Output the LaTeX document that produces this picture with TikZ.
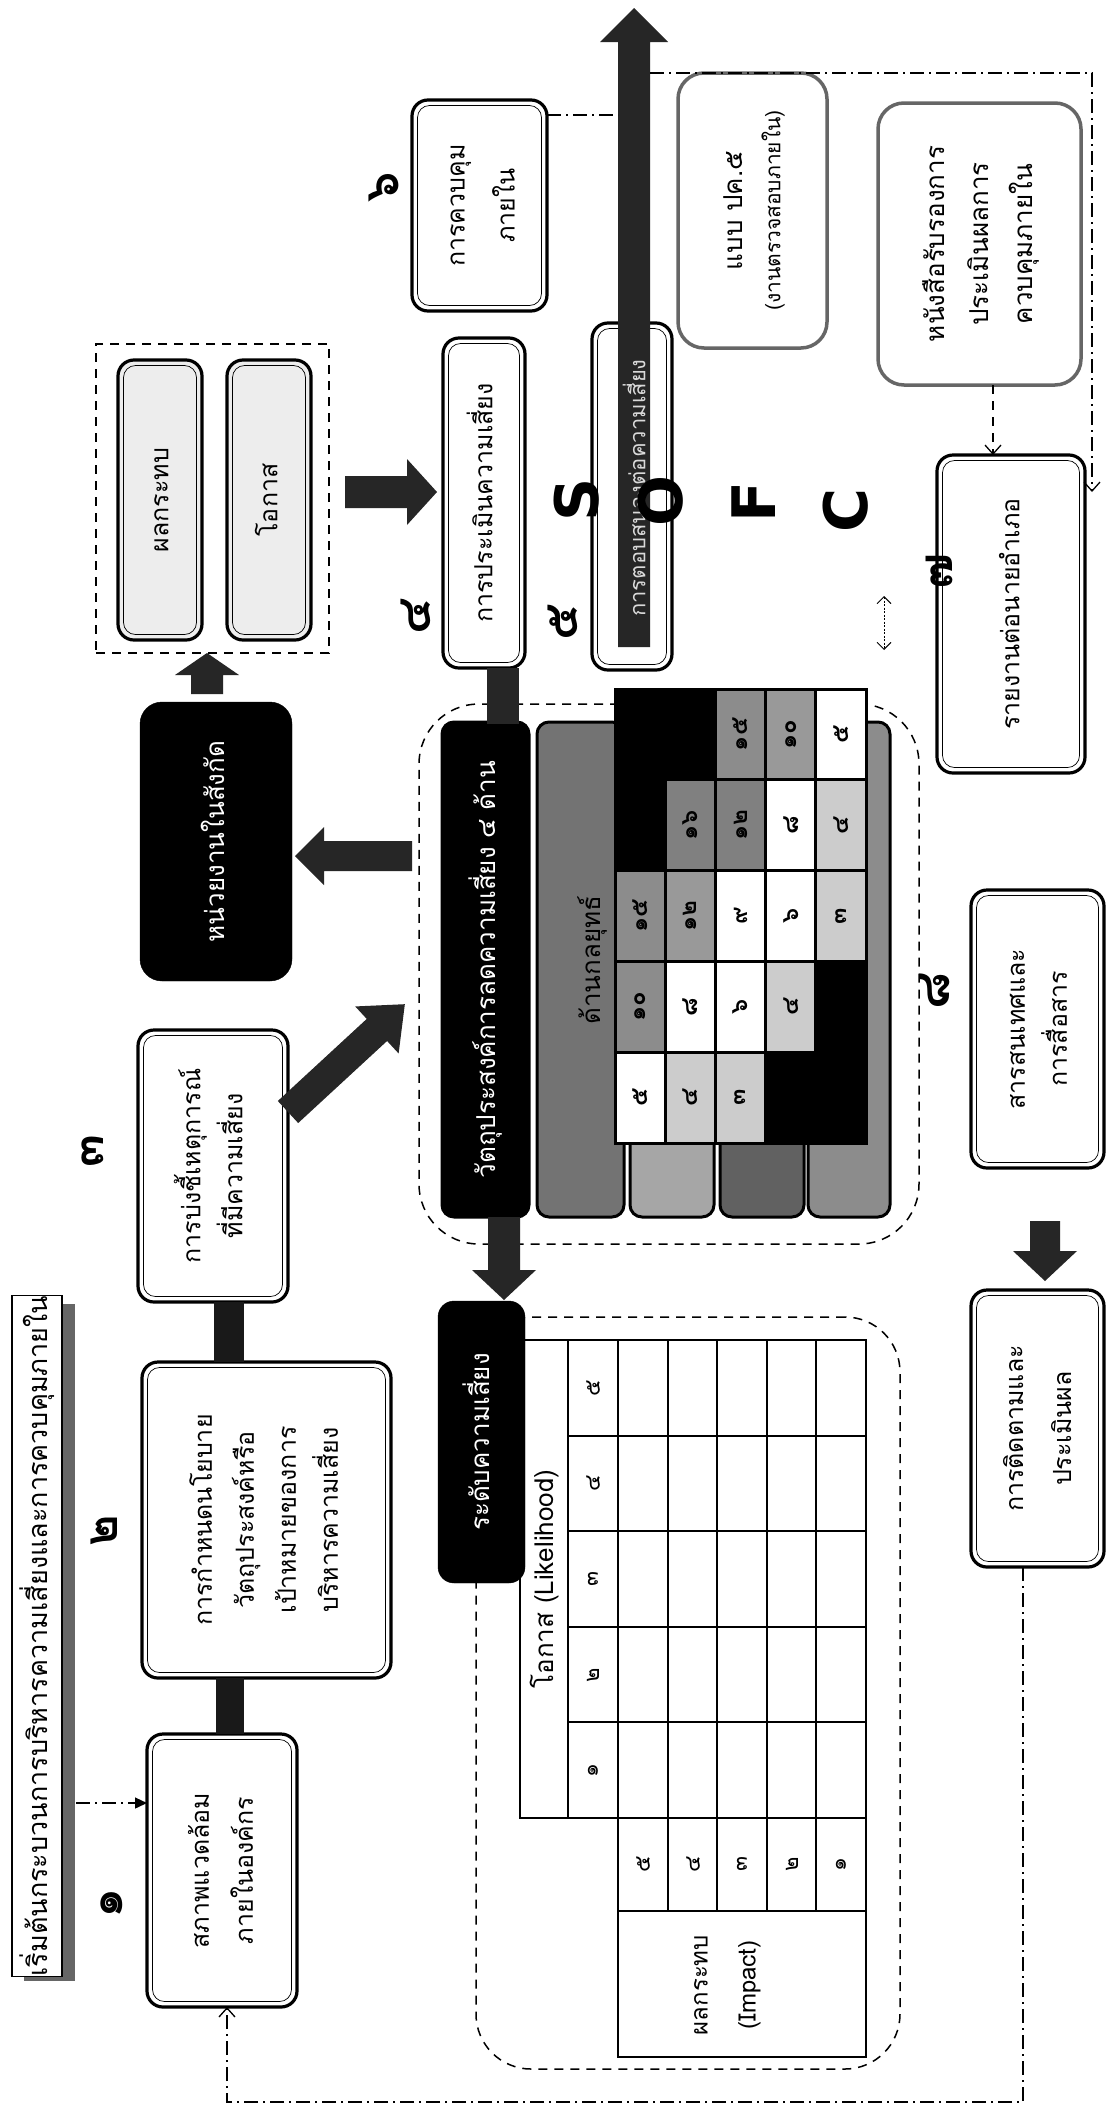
\documentclass[tikz,border=0pt]{standalone}
\usepackage{fontspec}
\setmainfont{Loma}[Script=Thai]
\newfontfamily\latf{DejaVu Sans}
\usetikzlibrary{arrows.meta}
\newcommand\rt[1]{\rotatebox{90}{\begin{tabular}{@{}c@{}}#1\end{tabular}}}
\newcommand\dblbox[7]{%
  \node[#1, minimum width=#5, minimum height=#6] (#2) at (#3,#4) {\rt{#7}};
  \node[dblin, minimum width=#5-11, minimum height=#6-11] (#2i) at (#3,#4) {};}
\begin{document}
\begin{tikzpicture}[x=1pt,y=-1pt,
 every node/.style={inner sep=0pt, outer sep=0pt},
 dbl/.style={draw, line width=3.2pt, rounded corners=16pt, fill=white, font=\fontsize{25}{42}\selectfont},
 lite/.style={dbl, fill=black!7},
 dblin/.style={draw, line width=0.7pt, rounded corners=12pt},
 gbox/.style={draw=black!60, line width=3.5pt, rounded corners=26pt, fill=white, font=\fontsize{26}{44}\selectfont},
 blkbox/.style={draw, fill=black, text=white, rounded corners=22pt, font=\fontsize{26}{40}\selectfont},
 num/.style={font=\fontsize{48}{48}\selectfont\bfseries, rotate=90},
 big/.style={font=\latf\fontsize{60}{60}\selectfont\bfseries, rotate=90},
 bk/.style={fill=black!85},
 dd/.style={line width=1.3pt, dash pattern=on 14pt off 5pt on 2pt off 5pt},
 dsh/.style={line width=1.5pt, dash pattern=on 9pt off 7pt},
 bar/.style={draw, line width=3pt, rounded corners=12pt},
 cell/.style={draw, line width=3pt, font=\fontsize{24}{24}\selectfont\bfseries},
 tbl/.style={line width=1.3pt},
 tnum/.style={font=\fontsize{22}{22}\selectfont, rotate=90},
 barb/.style={-{Straight Barb[length=9pt,width=16pt]}},
]
\useasboundingbox (0,0) rectangle (1109,2115);
\fill[white] (0,0) rectangle (1109,2115);

% ---------- dashed regions ----------
\node[draw, dsh, minimum width=233, minimum height=309] (grp) at (212.5,498.5) {};
\node[draw, dsh, rounded corners=60pt, minimum width=500, minimum height=540] (reg2) at (669,974) {};
\node[draw, dsh, rounded corners=55pt, minimum width=424, minimum height=752] (reg3) at (688,1693) {};

% ---------- title ----------
\fill[black!60] (24,1304) rectangle (75,1981);
\node[draw, line width=1.4pt, fill=white, minimum width=50, minimum height=678, font=\fontsize{27}{27}\selectfont] (title) at (37,1636) {\rotatebox{90}{เริ่มต้นกระบวนการบริหารความเสี่ยงและการควบคุมภายใน}};

% ---------- bars of the four objectives ----------
\node[bar, fill=black, minimum width=87, minimum height=495, text=white, font=\fontsize{26}{26}\selectfont] (bar0) at (485.5,969.5) {\rotatebox{90}{วัตถุประสงค์การลดความเสี่ยง ๔ ด้าน}};
\node[bar, fill=black!55, minimum width=87, minimum height=495] (bar1) at (580.5,969.5) {};
\node[rotate=90, font=\fontsize{26}{26}\selectfont] (bar1t) at (592,960) {ด้านกลยุทธ์};
\node[bar, fill=black!35, minimum width=84, minimum height=495] (bar2) at (672,969.5) {};
\node[bar, fill=black!62, minimum width=84, minimum height=495] (bar3) at (762,969.5) {};
\node[bar, fill=black!45, minimum width=82, minimum height=495] (bar4) at (849,969.5) {};

% ---------- risk matrix ----------
\foreach \c/\r/\f/\t in {1/1/black/{},1/2/black/{},1/3/black!45/๑๕,1/4/black!45/๑๐,1/5/white/๕,
  2/1/black/{},2/2/black!50/๑๖,2/3/black!40/๑๒,2/4/white/๘,2/5/black!20/๔,
  3/1/black!45/๑๕,3/2/black!50/๑๒,3/3/white/๙,3/4/white/๖,3/5/black!20/๓,
  4/1/black!40/๑๐,4/2/white/๘,4/3/white/๖,4/4/black!20/๔,4/5/black/{},
  5/1/white/๕,5/2/black!20/๔,5/3/black!20/๓,5/4/black/{},5/5/black/{}}{
  \pgfmathsetmacro\cx{615+(\c-0.5)*50.2}
  \pgfmathsetmacro\cy{689+(\r-0.5)*90.8}
  \node[cell, fill=\f, minimum width=50.2, minimum height=90.8] (m\c\r) at (\cx,\cy) {\rotatebox{90}{\t}};
}

% ---------- process boxes ----------
\dblbox{dbl, font=\fontsize{25}{44}\selectfont}{b1}{222}{1870.5}{150}{273}{สภาพแวดล้อม\\ภายในองค์กร}
\dblbox{dbl}{b2}{266.5}{1520}{249}{316}{การกำหนดนโยบาย\\วัตถุประสงค์หรือ\\เป้าหมายของการ\\บริหารความเสี่ยง}
\dblbox{dbl}{b3}{213}{1166}{150}{272}{การบ่งชี้เหตุการณ์\\ที่มีความเสี่ยง}
\dblbox{dbl}{b4}{484}{503}{82}{330}{การประเมินความเสี่ยง}
\dblbox{dbl, font=\fontsize{25}{50}\selectfont}{b6}{479.5}{205.5}{135}{211}{การควบคุม\\ภายใน}
\dblbox{dbl}{b7}{1011}{614}{148}{318}{รายงานต่อนายอำเภอ}
\dblbox{dbl}{b8}{1037.5}{1029}{133}{278}{สารสนเทศและ\\การสื่อสาร}
\dblbox{dbl, font=\fontsize{25}{48}\selectfont}{b9}{1037.5}{1428.5}{133}{277}{การติดตามและ\\ประเมินผล}
\dblbox{lite}{imp}{160}{500}{84}{280}{ผลกระทบ}
\dblbox{lite}{opp}{269}{500}{84}{280}{โอกาส}
\node[dbl, minimum width=80, minimum height=347] (b5) at (632,496.5) {};
\node[dblin, minimum width=69, minimum height=336] (b5i) at (632,496.5) {};

\node[gbox, minimum width=149, minimum height=275] (pk5) at (752.5,210.5) {\rotatebox{90}{\begin{tabular}{@{}c@{}}แบบ ปค.๕\\[-6pt]{\fontsize{21}{26}\selectfont(งานตรวจสอบภายใน)}\end{tabular}}};
\node[gbox, minimum width=203, minimum height=282] (cert) at (979.5,244) {\rt{หนังสือรับรองการ\\ประเมินผลการ\\ควบคุมภายใน}};

\node[blkbox, minimum width=152, minimum height=279] (unit) at (216,841.5) {\rt{หน่วยงานในสังกัด}};
\node[blkbox, rounded corners=16pt, minimum width=87, minimum height=282] (lvl) at (481.5,1442) {\rt{ระดับความเสี่ยง}};

% ---------- step numbers ----------
\node[num] (n1) at (112,1903) {๑};
\node[num] (n2) at (104,1531) {๒};
\node[num] (n3) at (93,1151) {๓};
\node[num] (n4) at (416,616) {๔};
\node[num] (n5) at (563,622) {๕};
\node[num] (n6) at (384,187) {๖};
\node[num] (n7) at (939,571) {๗};
\node[num] (n8) at (935,991) {๘};

% ---------- block connectors ----------
\fill[black!90] (216,1678) rectangle (244,1734);
\fill[black!90] (214,1302) rectangle (244,1362);
\fill[bk] (487,668) rectangle (519,724);
\fill[bk] (345,476) -- (407,476) -- (407,459) -- (437,492) -- (407,525) -- (407,508) -- (345,508) -- cycle;
\fill[bk] (191,694) -- (191,675) -- (175,675) -- (207,653) -- (239,675) -- (223,675) -- (223,694) -- cycle;
\fill[bk] (412,841) -- (324,841) -- (324,827) -- (295,856) -- (324,885) -- (324,871) -- (412,871) -- cycle;
\begin{scope}[shift={(288,1112)},rotate=42.7]
\fill[bk] (0,-15) -- (121,-15) -- (121,-32) -- (159,0) -- (121,32) -- (121,15) -- (0,15) -- cycle;
\end{scope}
\fill[bk] (488,1217) -- (488,1270) -- (472,1270) -- (504,1300) -- (536,1270) -- (520,1270) -- (520,1217) -- cycle;
\fill[bk] (1030,1221) -- (1030,1251) -- (1013,1251) -- (1045,1281) -- (1077,1251) -- (1060,1251) -- (1060,1221) -- cycle;
% big arrow through step 5
\fill[bk] (618,647) -- (618,42) -- (600,42) -- (634,8) -- (668,42) -- (650,42) -- (650,647) -- cycle;
\node[rotate=90, text=black!15, font=\fontsize{22}{22}\selectfont] (b5t) at (634,488) {การตอบสนองต่อความเสี่ยง};

% ---------- S O F C ----------
\node[big] (lS) at (577,500) {S};
\node[big] (lO) at (661,501) {O};
\node[big] (lF) at (754,502) {F};
\node[big] (lC) at (846,510) {C};

% ---------- risk level table ----------
\draw[tbl] (520,1340) rectangle (568,1818);
\draw[tbl] (568,1340) rectangle (866,1818);
\foreach \x in {618,668,717,767,816} \draw[tbl] (\x,1340) -- (\x,1818);
\foreach \y in {1436,1531,1627,1722} \draw[tbl] (568,\y) -- (866,\y);
\draw[tbl] (618,1818) rectangle (866,1911);
\foreach \x in {668,717,767,816} \draw[tbl] (\x,1818) -- (\x,1911);
\draw[tbl] (618,1911) rectangle (866,2057);
\node[rotate=90, font=\fontsize{26}{26}\selectfont] (lkh) at (545,1579) {โอกาส (Likelihood)};
\foreach \v/\y in {๕/1388,๔/1483,๓/1579,๒/1675,๑/1770} \node[tnum] (l\y) at (593,\y) {\v};
\foreach \v/\x in {๕/643,๔/693,๓/742,๒/792,๑/841} \node[tnum] (i\x) at (\x,1864) {\v};
\node[font=\fontsize{24}{48}\selectfont] (impt) at (722,1985) {\rt{ผลกระทบ\\(Impact)}};

% ---------- thin connectors ----------
\coordinate (t1) at (76,1803);
\draw[dd, -{Triangle[length=12pt,width=11pt]}] (t1) -- (t1 -| b1.west);
\draw[dd, barb] ([xshift=-14.5pt]b9.south) -- ++(0,535) -| ([xshift=5pt]b1.south);
\coordinate (c6) at (547,115);
\draw[dd] (c6) -- (618,115);
\coordinate (c7) at (650,73);
\draw[dd, barb] (c7) -- (1092,73) -- (1092,492);
\draw[dsh, line width=1.3pt, barb] ([xshift=13.5pt]cert.south) -- ([xshift=13.5pt]cert.south |- b7.north);
\coordinate (da) at (884,596);
\coordinate (db) at (884,650);
\draw[line width=0.9pt, dash pattern=on 2pt off 1.5pt, {Straight Barb[length=7pt,width=14pt]}-{Straight Barb[length=7pt,width=14pt]}] (da) -- (db);
\end{tikzpicture}
\end{document}
